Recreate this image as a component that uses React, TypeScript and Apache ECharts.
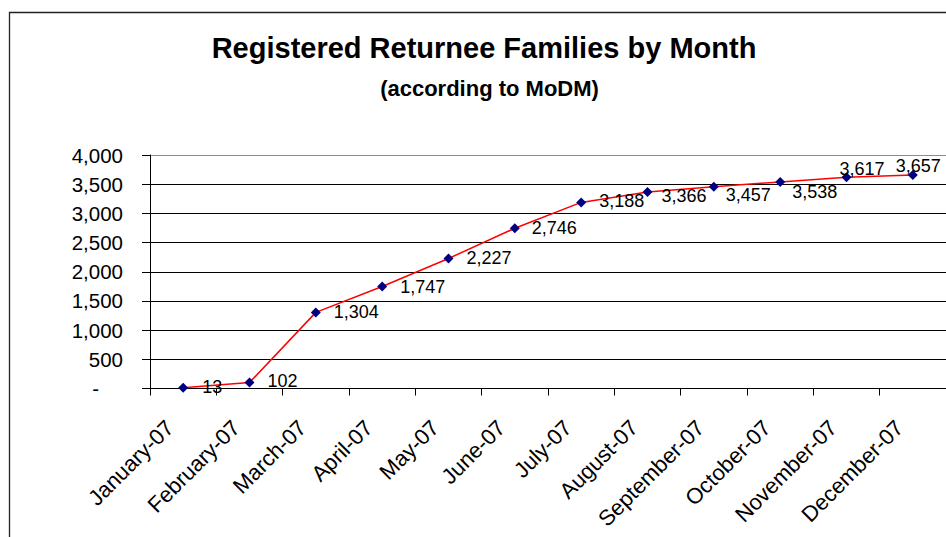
import React, { useEffect, useRef } from "react";
import * as echarts from "echarts";

const titleText = "Registered Returnee Families by Month";
const subtitleText = "(according to MoDM)";
const months = [
  "January-07", "February-07", "March-07", "April-07", "May-07", "June-07",
  "July-07", "August-07", "September-07", "October-07", "November-07", "December-07",
];
const families = [13, 102, 1304, 1747, 2227, 2746, 3188, 3366, 3457, 3538, 3617, 3657];
const yTicks = { min: 0, max: 4000, interval: 500 };
// label offsets from marker centre (left edge of text, vertical centre)
const labelOffsets: [number, number][] = [
  [19, -1], [18, -2], [18, 0], [18, 0], [18, 0], [17, 0],
  [18, -1], [14, 4], [12, 8], [12, 10], [-7, -8], [-17, -9],
];

const FONT = 'Arial, "Liberation Sans", sans-serif';
const fmt = (v: number) => (v === 0 ? "-" : v.toLocaleString("en-US"));

export default function App() {
  const ref = useRef<HTMLDivElement>(null);
  useEffect(() => {
    if (!ref.current) return;
    const chart = echarts.init(ref.current, undefined, { renderer: "svg" });
    chart.setOption({
      animation: false,
      backgroundColor: "#ffffff",
      textStyle: { fontFamily: FONT },
      graphic: [
        {
          type: "rect",
          z: -10,
          shape: { x: 9.5, y: 12.5, width: 1000, height: 600 },
          style: { fill: "none", stroke: "#222", lineWidth: 1.3 },
        },
        {
          type: "text",
          x: 484,
          y: 47.5,
          style: {
            text: titleText,
            font: `bold 29px ${FONT}`,
            fill: "#000",
            align: "center",
            verticalAlign: "middle",
          },
        },
        {
          type: "text",
          x: 489.5,
          y: 88.5,
          style: {
            text: subtitleText,
            font: `bold 22px ${FONT}`,
            fill: "#000",
            align: "center",
            verticalAlign: "middle",
          },
        },
      ],
      grid: { left: 150, right: 0, top: 155, bottom: 148.5, containLabel: false },
      xAxis: {
        type: "category",
        data: months,
        boundaryGap: true,
        axisLine: { show: true, lineStyle: { color: "#000", width: 1 } },
        axisTick: { show: true, interval: 0, length: 7, lineStyle: { color: "#000" } },
        axisLabel: {
          interval: 0,
          rotate: 45,
          margin: 22,
          padding: [0, 19, 0, 0],
          color: "#000",
          fontSize: 22,
          fontFamily: FONT,
        },
        splitLine: { show: false },
      },
      yAxis: {
        type: "value",
        min: yTicks.min,
        max: yTicks.max,
        interval: yTicks.interval,
        axisLine: { show: true, lineStyle: { color: "#000", width: 1 } },
        axisTick: { show: true, length: 8, lineStyle: { color: "#000" } },
        axisLabel: {
          margin: 27,
          color: "#000",
          fontSize: 20.5,
          fontFamily: FONT,
          formatter: (v: number) => (v === 0 ? "{d|-}" : fmt(v)),
          rich: { d: { fontSize: 20.5, fontFamily: FONT, color: "#000", padding: [0, 24, 0, 0] } },
        },
        splitLine: {
          show: true,
          lineStyle: {
            color: ["#000", "#000", "#000", "#000", "#000", "#000", "#000", "#000", "#8c8c8c"],
            width: 1,
          },
        },
      },
      series: [
        {
          type: "line",
          data: families.map((v, i) => ({
            value: v,
            label: { offset: labelOffsets[i] },
          })),
          symbol: "diamond",
          symbolSize: 10,
          itemStyle: { color: "#000080" },
          lineStyle: { color: "#ff0000", width: 1.5 },
          label: {
            show: true,
            position: "inside",
            align: "left",
            verticalAlign: "middle",
            color: "#000",
            fontSize: 18,
            fontFamily: FONT,
            formatter: (p: any) => fmt(p.value),
          },
          z: 5,
        },
      ],
    });
    return () => chart.dispose();
  }, []);
  return (
    <div
      ref={ref}
      style={{ position: "absolute", left: 0, top: 0, width: 946, height: 537 }}
    />
  );
}
